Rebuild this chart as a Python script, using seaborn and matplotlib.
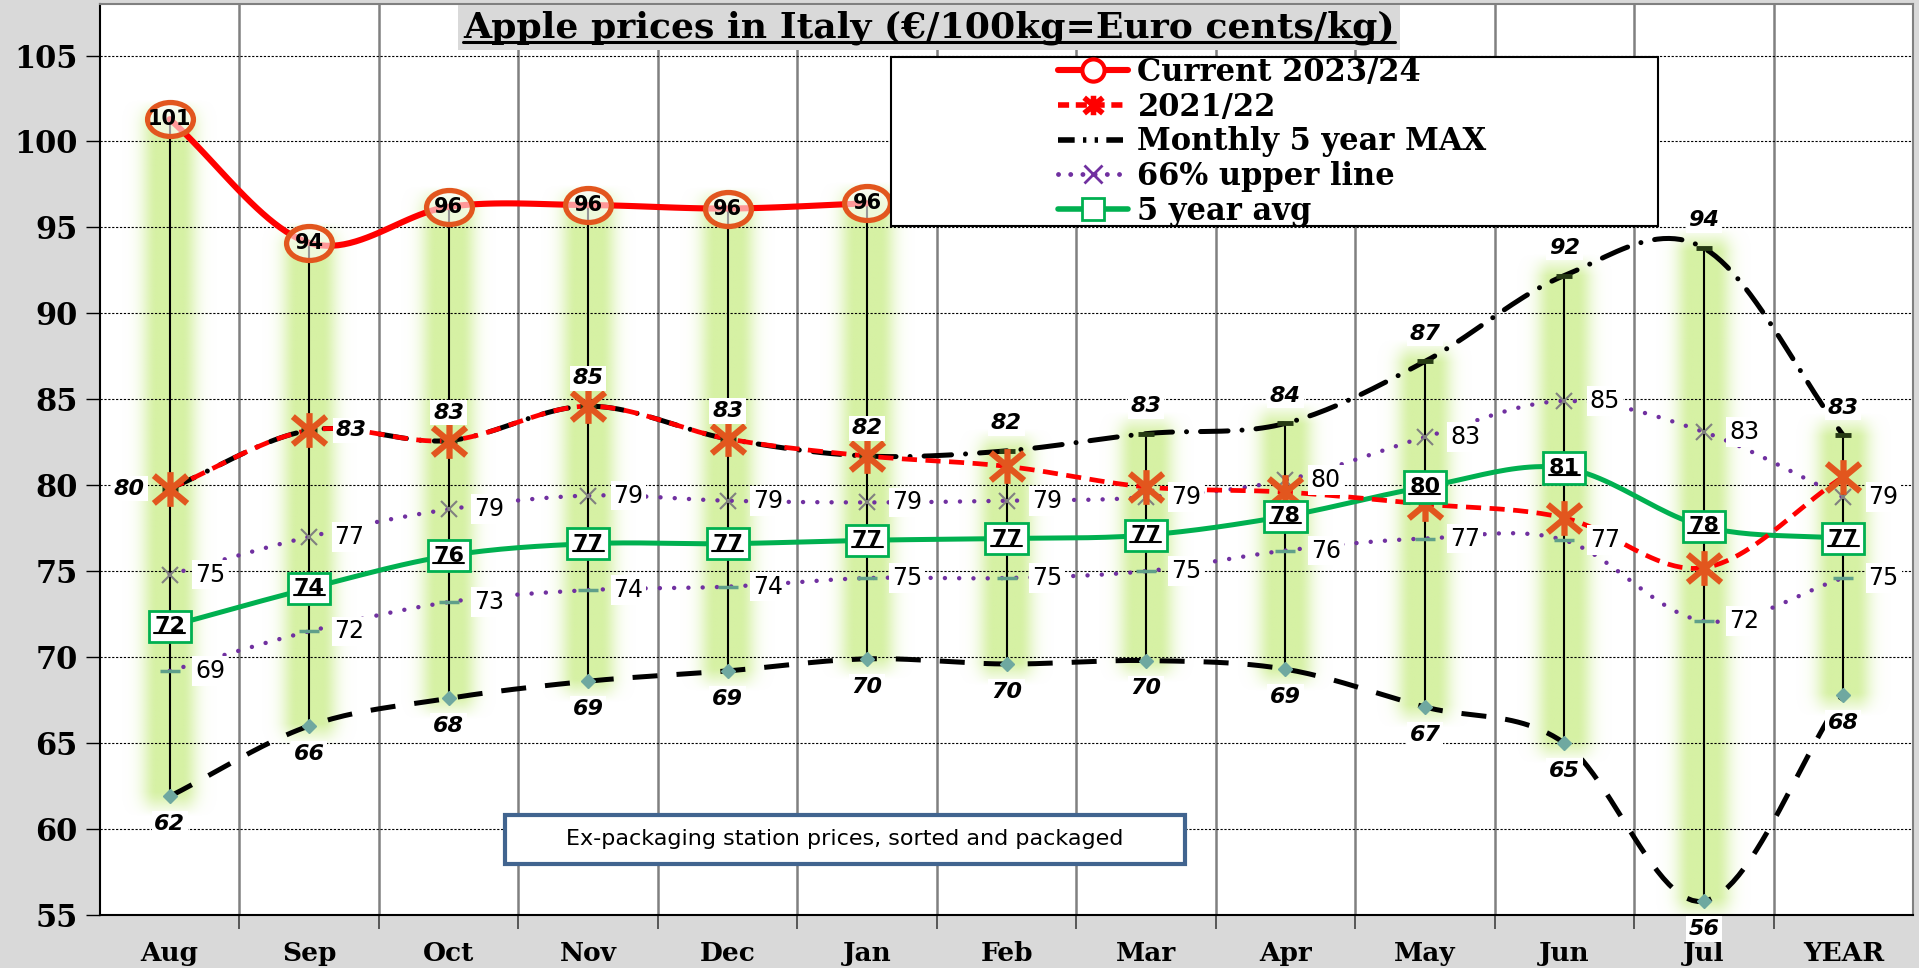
"""
Apple prices in Italy - monthly chart recreated with seaborn / matplotlib
"""

import numpy as np
import matplotlib
matplotlib.use('Agg')
import matplotlib.pyplot as plt
import seaborn as sns
from matplotlib.lines import Line2D
from matplotlib.patches import Rectangle
from matplotlib.path import Path
from matplotlib.transforms import Affine2D
from matplotlib.colors import to_rgb
from matplotlib.font_manager import FontProperties

# ---- data ----
months = ['Aug', 'Sep', 'Oct', 'Nov', 'Dec', 'Jan', 'Feb', 'Mar', 'Apr', 'May', 'Jun', 'Jul', 'YEAR']
current = [101.3, 94.1, 96.2, 96.3, 96.1, 96.4]
season_2122 = [79.8, 83.2, 82.6, 84.6, 82.7, 81.7, 81.1, 79.9, 79.6, 78.9, 78.1, 75.2, 80.5]
max5 = [79.8, 83.2, 82.6, 84.6, 82.7, 81.7, 82.0, 83.0, 83.6, 87.2, 92.2, 93.8, 82.9]
min5 = [61.9, 66.0, 67.6, 68.6, 69.2, 69.9, 69.6, 69.8, 69.3, 67.1, 65.0, 55.8, 67.8]
upper66 = [74.8, 77.0, 78.6, 79.4, 79.1, 79.0, 79.1, 79.3, 80.3, 82.8, 84.9, 83.1, 79.3]
lower66 = [69.2, 71.5, 73.2, 73.9, 74.1, 74.6, 74.6, 75.0, 76.2, 76.9, 76.8, 72.1, 74.6]
avg5 = [71.8, 74.0, 75.9, 76.6, 76.6, 76.8, 76.9, 77.1, 78.2, 79.9, 81.0, 77.6, 76.9]

title = 'Apple prices in Italy (€/100kg=Euro cents/kg)'
note = 'Ex-packaging station prices, sorted and packaged'

sns.set_theme(style='white')
plt.rcParams['font.family'] = ['DejaVu Sans']
plt.rcParams['text.color'] = 'black'
plt.rcParams['xtick.color'] = 'black'
plt.rcParams['ytick.color'] = 'black'

RED = '#ff0000'
ORANGE = '#e2561e'
PURPLE = '#7030a0'
GREEN = '#00b050'
GREY_BG = '#d9d9d9'
GLOW = '#d6f1a4'


def smooth(y, n=24):
    """Catmull-Rom curve through the points (like Excel smoothed lines)"""
    y = np.asarray(y, float)
    p = np.concatenate([[2 * y[0] - y[1]], y, [2 * y[-1] - y[-2]]])
    t = np.linspace(0, 1, n, endpoint=False)
    xs, ys = [], []
    for i in range(len(y) - 1):
        p0, p1, p2, p3 = p[i], p[i + 1], p[i + 2], p[i + 3]
        ys.append(0.5 * (2 * p1 + (-p0 + p2) * t + (2 * p0 - 5 * p1 + 4 * p2 - p3) * t ** 2
                         + (-p0 + 3 * p1 - 3 * p2 + p3) * t ** 3))
        xs.append(i + t)
    xs.append([len(y) - 1])
    ys.append([y[-1]])
    return np.concatenate(xs), np.concatenate(ys)


def curve(ax, y, color, lw, dashes=None, cap='butt', z=3):
    xs, ys = smooth(y)
    sns.lineplot(x=xs, y=ys, ax=ax, color=color, linewidth=lw, sort=False,
                 estimator=None, legend=False, zorder=z)
    ln = ax.lines[-1]
    if dashes is not None:
        ln.set_dashes(dashes)
        ln.set_dash_capstyle(cap)
    ln.set_solid_capstyle('round')
    return ln


def glow(ax, xc, lo, hi, half=0.34, pad=1.3):
    """soft light-green band from lo to hi around category xc"""
    nx, ny = 90, 120
    u = np.linspace(-half, half, nx)
    ax_alpha = np.exp(-(np.maximum(np.abs(u) - 0.09, 0) / 0.11) ** 2)
    yy = np.linspace(lo - pad, hi + pad, ny)
    ay = np.clip((yy - (lo - pad)) / pad, 0, 1) * np.clip(((hi + pad) - yy) / pad, 0, 1)
    img = np.zeros((ny, nx, 4))
    img[..., :3] = to_rgb(GLOW)
    img[..., 3] = ay[:, None] * ax_alpha[None, :]
    ax.imshow(img, extent=(xc - half, xc + half, lo - pad, hi + pad), origin='lower',
              aspect='auto', interpolation='bilinear', zorder=0.2)


fig = plt.figure(figsize=(19.19, 9.68), dpi=100, facecolor=GREY_BG)
ax = fig.add_axes([0.0521, 0.0548, 0.9448, 0.9411])
ax.set_facecolor('white')

x = np.arange(len(months))
vtop = [max(m, current[i]) if i < len(current) else m for i, m in enumerate(max5)]

# green glow bands behind the min-max ranges
for i in x:
    glow(ax, i, min5[i], vtop[i])

# range lines
ax.vlines(x, min5, vtop, color='black', lw=1.5, zorder=2)

# lines
curve(ax, min5, 'black', 3.6, dashes=(5, 3.8))
curve(ax, lower66, PURPLE, 3.2, dashes=(0.01, 3.2), cap='round')
curve(ax, upper66, PURPLE, 3.2, dashes=(0.01, 3.2), cap='round')
curve(ax, avg5, GREEN, 3.6)
curve(ax, max5, 'black', 3.6, dashes=(5.5, 2.8, 0.01, 2.8), cap='round')
curve(ax, season_2122, RED, 3.4, dashes=(3.2, 1.8))
curve(ax, current, RED, 4.4, z=4)

# markers
star = Path([(-1.2, -1), (1.2, 1), (-1.2, 1), (1.2, -1), (0, -1.25), (0, 1.25)],
            [Path.MOVETO, Path.LINETO] * 3)
ellipse = Path.unit_circle().transformed(Affine2D().scale(1.35, 1.0))
ax.plot(x, min5, ls='none', marker='D', ms=7, mfc='#6fa8a0', mec='#6fa8a0', zorder=6)
ax.plot(x, max5, ls='none', marker='_', ms=12, mew=3.5, mec='#263a13', zorder=6)
ax.plot(x, lower66, ls='none', marker='_', ms=14, mew=2.5, mec='#5f9f8a', zorder=6)
ax.plot(x, upper66, ls='none', marker='x', ms=12, mew=1.5, mec='#808080', zorder=6)
ax.plot(x, season_2122, ls='none', marker=star, ms=25, mew=4.5, mec=ORANGE, mfc='none', zorder=7)
ax.plot(x[:len(current)], current, ls='none', marker=ellipse, ms=33, mew=3.8,
        mec=ORANGE, mfc=(1, 1, 1, 0.6), zorder=8)

# data labels
lab_box = dict(boxstyle='square,pad=0.12', fc='white', ec='none')
for i, v in enumerate(current):
    ax.text(i, v, f'{v:.0f}', ha='center', va='center', fontsize=15, fontweight='bold',
            color='black', zorder=9)

max_off = {0: (-29, 0), 1: (30, 0)}
for i, v in enumerate(max5):
    ax.annotate(f'{v:.0f}', (i, v), xytext=max_off.get(i, (0, 20)), textcoords='offset points',
                ha='center', va='center', fontsize=16, fontweight='bold', fontstyle='italic',
                bbox=lab_box, zorder=9)
for i, v in enumerate(min5):
    ax.annotate(f'{v:.0f}', (i, v), xytext=(0, -20), textcoords='offset points',
                ha='center', va='center', fontsize=16, fontweight='bold', fontstyle='italic',
                bbox=lab_box, zorder=9)
for series in (upper66, lower66):
    for i, v in enumerate(series):
        ax.annotate(f'{v:.0f}', (i, v), xytext=(29, 0), textcoords='offset points',
                    ha='center', va='center', fontsize=17, bbox=lab_box, zorder=9)

avg_texts = []
for i, v in enumerate(avg5):
    t = ax.text(i, v, f'{v:.0f}', ha='center', va='center', fontsize=16, fontweight='bold',
                bbox=dict(boxstyle='square,pad=0.25', fc='white', ec=GREEN, lw=2), zorder=10)
    avg_texts.append(t)

# axes styling
ax.set_xlim(-0.5, 12.5)
ax.set_ylim(55, 108)
ax.set_yticks(range(55, 106, 5))
ax.set_xticks(x)
ax.set_xticklabels(months)
ax.set_xticks(np.arange(0.5, 12, 1), minor=True)
serif_b = dict(family='DejaVu Serif', weight='bold')
for lab in ax.get_yticklabels():
    lab.set_fontproperties(FontProperties(size=22, **serif_b))
for lab in ax.get_xticklabels():
    lab.set_fontproperties(FontProperties(size=19, **serif_b))
ax.tick_params(axis='y', which='major', length=10, width=1, color='black', pad=6, left=True)
ax.tick_params(axis='x', which='major', length=0, pad=19, bottom=True)
ax.tick_params(axis='x', which='minor', length=10, width=1.2, color='#404040', bottom=True)
ax.set_axisbelow(True)
ax.yaxis.grid(True, color='black', linestyle=(0, (2, 1.5)), lw=0.8)
ax.xaxis.grid(True, which='minor', color='#808080', lw=1.8)
ax.xaxis.grid(False, which='major')
for side in ['left', 'bottom']:
    ax.spines[side].set_color('black')
    ax.spines[side].set_linewidth(1.5)
for side in ['top', 'right']:
    ax.spines[side].set_color('#808080')
    ax.spines[side].set_linewidth(1.5)

# note box
ax.add_patch(Rectangle((0.2234, 0.056), 0.375, 0.0538, transform=ax.transAxes,
                       fc='white', ec='#41648f', lw=3, zorder=11))
ax.text(0.2234 + 0.1875, 0.056 + 0.0269, note, transform=ax.transAxes, ha='center',
        va='center', fontsize=16, zorder=12)

# legend with its own box
fig.add_artist(Rectangle((891 / 1919, (968 - 226) / 968), 767 / 1919, 169 / 968,
                         transform=fig.transFigure, fc='white', ec='black', lw=1.5, zorder=4))
handles = [
    Line2D([], [], color=RED, lw=4.4, marker='o', ms=16, mfc='white', mec=RED, mew=3),
    Line2D([], [], color=RED, lw=4, dashes=(2, 1.2), marker=star, ms=14, mec=RED, mfc='none', mew=4),
    Line2D([], [], color='black', lw=4, dashes=(3, 1.5, 0.6, 1.5, 0.6, 1.5)),
    Line2D([], [], color=PURPLE, lw=3.5, dashes=(0.01, 2.5), dash_capstyle='round',
           marker='x', ms=13, mec=PURPLE, mew=2),
    Line2D([], [], color=GREEN, lw=4, marker='s', ms=16, mfc='white', mec=GREEN, mew=2),
]
labels = ['Current 2023/24', '2021/22', 'Monthly 5 year MAX', '66% upper line', '5 year avg']
leg = fig.legend(handles, labels, loc='upper left', bbox_to_anchor=(1058 / 1919, (968 - 57) / 968),
                 frameon=False, prop=FontProperties(size=22, **serif_b), handlelength=2.3,
                 handletextpad=0.3, labelspacing=0.12, borderpad=0, borderaxespad=0)
leg.set_zorder(5)

# title
ttl = fig.text(0.484, 0.9716, title, ha='center', va='center', fontsize=26, zorder=6,
               bbox=dict(boxstyle='square,pad=0.15', fc=GREY_BG, ec='none'), **serif_b)


def underline(txt, lw, raise_px):
    bb = txt.get_window_extent()
    inv = fig.transFigure.inverted()
    (x0, y0), (x1, _) = inv.transform([(bb.x0, bb.y0 + raise_px), (bb.x1, bb.y0 + raise_px)])
    fig.add_artist(Line2D([x0, x1], [y0, y0], transform=fig.transFigure, color='black',
                          lw=lw, zorder=txt.get_zorder() + 1))


fig.canvas.draw()
underline(ttl, 2.2, 3)
for t in avg_texts:
    underline(t, 1.5, 3)

fig.savefig('out.png', dpi=100, facecolor=fig.get_facecolor())
